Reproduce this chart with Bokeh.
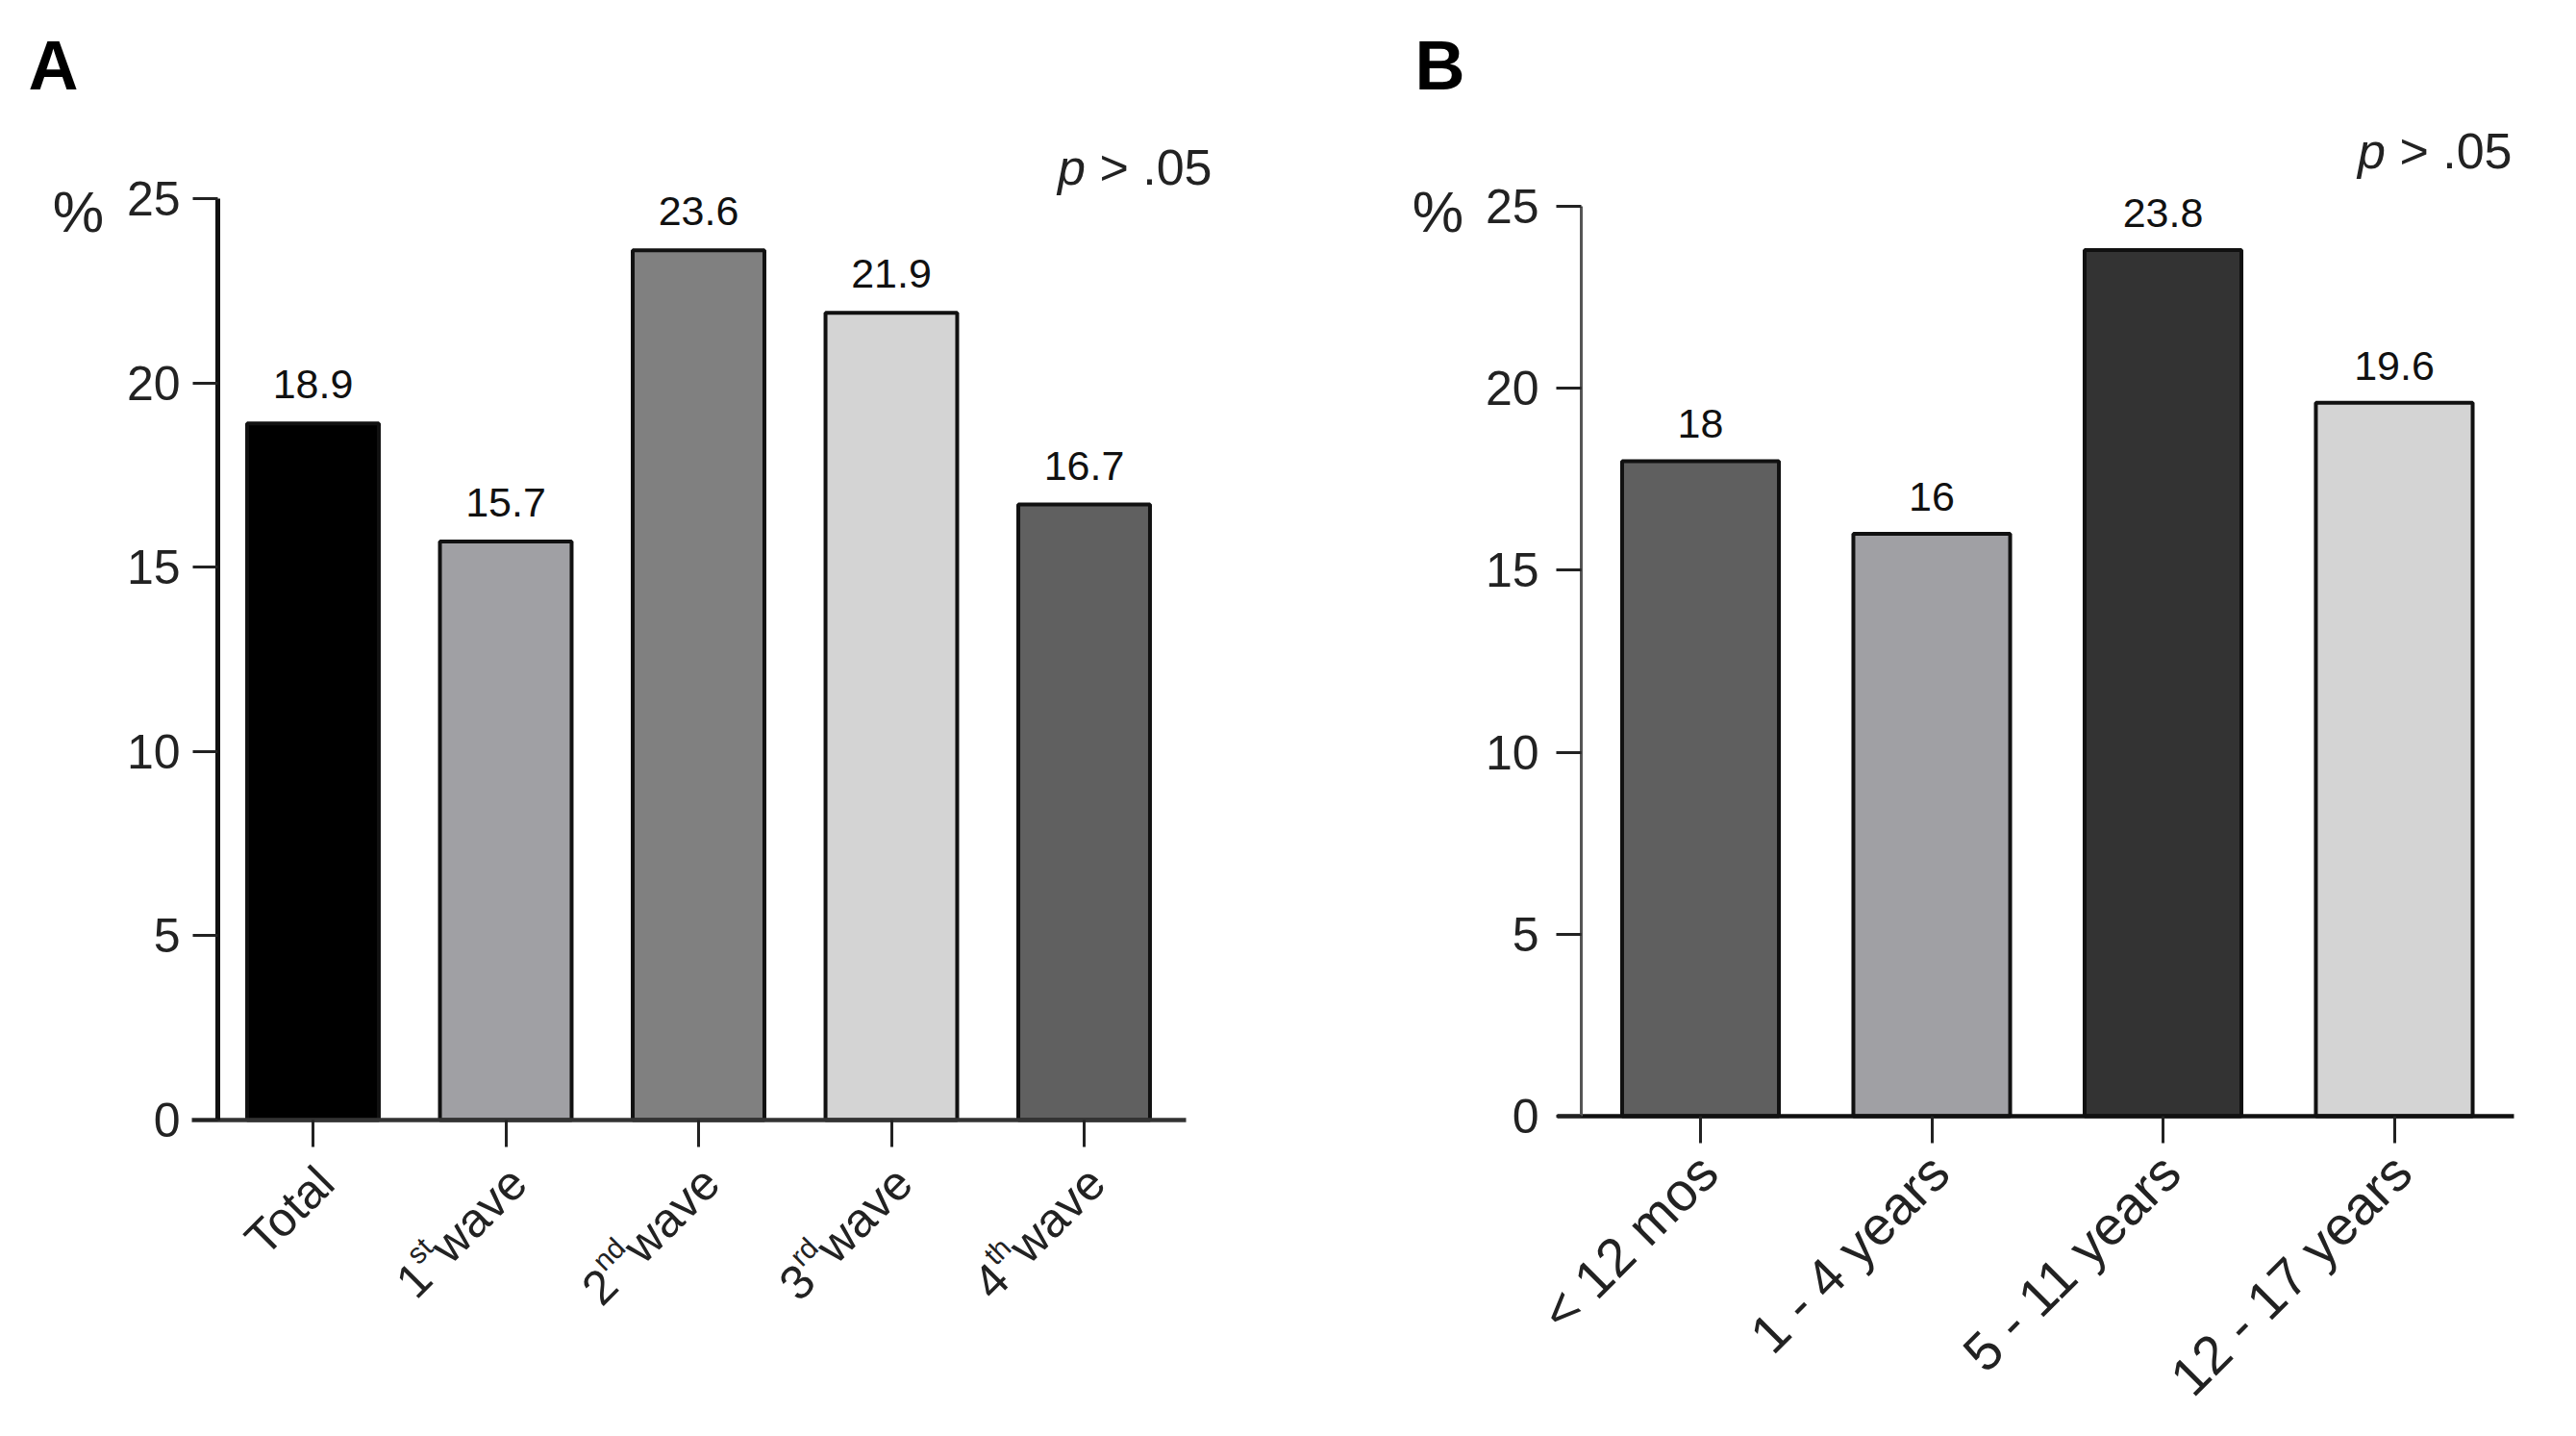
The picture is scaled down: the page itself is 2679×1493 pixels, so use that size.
import math
from bokeh.plotting import figure
from bokeh.models import ColumnDataSource, LabelSet, Range1d, FixedTicker
from bokeh.layouts import row
from bokeh.core.properties import value
from bokeh.embed import file_html
from bokeh.resources import INLINE

# ---------------- data ----------------
a_main = ["Total", "1", "2", "3", "4"]
a_sup = ["", "st", "nd", "rd", "th"]
a_tail = ["", "wave", "wave", "wave", "wave"]
a_values = [18.9, 15.7, 23.6, 21.9, 16.7]
a_colors = ["#000000", "#a0a0a4", "#808080", "#d4d4d4", "#606060"]

b_categories = ["< 12 mos", "1 - 4 years", "5 - 11 years", "12 - 17 years"]
b_values = [18, 16, 23.8, 19.6]
b_colors = ["#5f5f5f", "#a0a0a4", "#333333", "#d4d4d4"]

y_ticks = [0, 5, 10, 15, 20, 25]
panel_letters = ["A", "B"]
unit_label = "%"
p_italic = "p"
p_rest = "> .05"

FONT = "Liberation Sans"
PAGE_H = 1477
W = {'w': 0.722, 'a': 0.556, 'v': 0.5, 'e': 0.556, 's': 0.5, 't': 0.278, 'n': 0.556,
     'd': 0.556, 'r': 0.333, 'h': 0.556, ' ': 0.278, '>': 0.584, '.': 0.278, '0': 0.556,
     '5': 0.556, 'T': 0.611, 'o': 0.556, 'l': 0.222, '1': 0.556, 'p': 0.556}


def tw(s, size):
    return sum(W.get(c, 0.556) for c in s) * size


def make_panel(page_left, width, x0, dx, y0, y25):
    """x0: page x of category 0, dx: px per category, y0/y25: page y of values 0 and 25."""
    ppu = (y0 - y25) / 25.0
    X = lambda px: (px - x0) / dx
    Y = lambda py: (y0 - py) / ppu
    p = figure(width=width, height=PAGE_H,
               x_range=Range1d(X(page_left), X(page_left + width)),
               y_range=Range1d(Y(8 + PAGE_H), Y(8)),
               output_backend="svg", toolbar_location=None, title=None,
               min_border=0)
    p.min_border_left = 0
    p.min_border_right = 0
    p.min_border_top = 0
    p.min_border_bottom = 0
    p.grid.visible = False
    p.outline_line_color = None
    p.background_fill_color = "white"
    p.border_fill_color = "white"
    return p, X, Y


def style_axes(p, X, n, y_px, xl_px, xr_px, yw, yc, xw, xc, standoff):
    ya = p.yaxis[0]
    ya.fixed_location = X(y_px)
    ya.bounds = (0, 25)
    ya.ticker = FixedTicker(ticks=y_ticks)
    ya.axis_line_width = yw
    ya.axis_line_color = yc
    ya.major_tick_line_width = 3
    ya.major_tick_line_color = "#222222"
    ya.major_tick_out = 26
    ya.major_tick_in = 0
    ya.minor_tick_line_color = None
    ya.major_label_text_font = FONT
    ya.major_label_text_font_size = "50px"
    ya.major_label_text_color = "#222222"
    ya.major_label_standoff = standoff
    xa = p.xaxis[0]
    xa.fixed_location = 0
    xa.bounds = (X(xl_px), X(xr_px))
    xa.ticker = FixedTicker(ticks=list(range(n)))
    xa.major_label_overrides = {i: "" for i in range(n)}
    xa.axis_line_width = xw
    xa.axis_line_color = xc
    xa.major_tick_line_width = 3
    xa.major_tick_line_color = "#222222"
    xa.major_tick_out = 28
    xa.major_tick_in = 0
    xa.minor_tick_line_color = None


def add_labels(p, xs, ys, texts, dx, dy, size, align="center", baseline="alphabetic",
               angle=0.0, style="normal", color="#111111"):
    n = len(texts)
    if not isinstance(dx, list):
        dx = [dx] * n
    if not isinstance(dy, list):
        dy = [dy] * n
    src = ColumnDataSource(dict(x=xs, y=ys, text=texts, dx=dx, dy=dy))
    p.add_layout(LabelSet(x="x", y="y", text="text", x_offset="dx", y_offset="dy", source=src,
                          angle=angle, text_font=value(FONT), text_font_size=value(f"{size}px"),
                          text_align=value(align), text_baseline=value(baseline),
                          text_font_style=value(style), text_color=value(color)))


def add_header(p, X, Y, letter_xy, pct_xy, p_right, p_y):
    add_labels(p, [X(letter_xy[0])], [Y(letter_xy[1])], [letter_xy[2]], 0, 0, 72,
               "center", "middle", style="bold", color="#000000")
    add_labels(p, [X(pct_xy[0])], [Y(pct_xy[1])], [unit_label], 0, 0, 60,
               "center", "middle", color="#222222")
    add_labels(p, [X(p_right)], [Y(p_y)], [p_rest], 0, 0, 52, "right", "middle", color="#222222")
    add_labels(p, [X(p_right - tw(p_rest, 52) - tw(" ", 52))], [Y(p_y)], [p_italic], 0, 0, 52,
               "right", "middle", style="italic", color="#222222")


c45 = math.cos(math.pi / 4)
ANG = math.pi / 4

# ---------------- panel A ----------------
a_x = list(range(len(a_values)))
pa, XA, YA = make_panel(8, 1400, 333, 200.5, 1172, 214)
style_axes(pa, XA, len(a_x), 234, 207, 1241, 5, "#111111", 4.5, "#333333", 13)
pa.vbar(x=a_x, top=a_values, width=0.683, fill_color=a_colors, line_color="#111111", line_width=4)
add_labels(pa, a_x, a_values, [f"{v:g}" for v in a_values], 0, 26, 43)

FA, FS = 50, 30
ax0, ay0 = 13, -57
m_dx, m_dy, s_dx, s_dy = [], [], [], []
for m, s, t in zip(a_main, a_sup, a_tail):
    wt = tw(t, FA)
    ws = tw(s, FS)
    s_dx.append(ax0 - wt * c45 - 0.34 * FA * c45)
    s_dy.append(ay0 - wt * c45 + 0.34 * FA * c45)
    m_dx.append(ax0 - (wt + ws) * c45)
    m_dy.append(ay0 - (wt + ws) * c45)
zeros = [0] * len(a_x)
add_labels(pa, a_x, zeros, a_main, m_dx, m_dy, FA, "right", "middle", ANG, color="#222222")
add_labels(pa, a_x, zeros, a_sup, s_dx, s_dy, FS, "right", "middle", ANG, color="#222222")
add_labels(pa, a_x, zeros, a_tail, ax0, ay0, FA, "right", "middle", ANG, color="#222222")
add_header(pa, XA, YA, (63, 75, panel_letters[0]), (89, 228), 1268, 181)

# ---------------- panel B ----------------
b_x = list(range(len(b_values)))
pb, XB, YB = make_panel(1408, 1263, 1776, 240.5, 1168, 222)
style_axes(pb, XB, len(b_x), 1652, 1627, 2622, 3, "#555555", 4.5, "#111111", 18)
pb.vbar(x=b_x, top=b_values, width=0.678, fill_color=b_colors, line_color="#111111", line_width=4)
add_labels(pb, b_x, b_values, [f"{v:g}" for v in b_values], 0, 24, 43)
add_labels(pb, b_x, [0] * len(b_x), b_categories, 8, -49, 56, "right", "middle", ANG, color="#222222")
add_header(pb, XB, YB, (1505, 75, panel_letters[1]), (1503, 228), 2620, 164)

layout = row(pa, pb)
open("out.html", "w").write(file_html(layout, INLINE))
